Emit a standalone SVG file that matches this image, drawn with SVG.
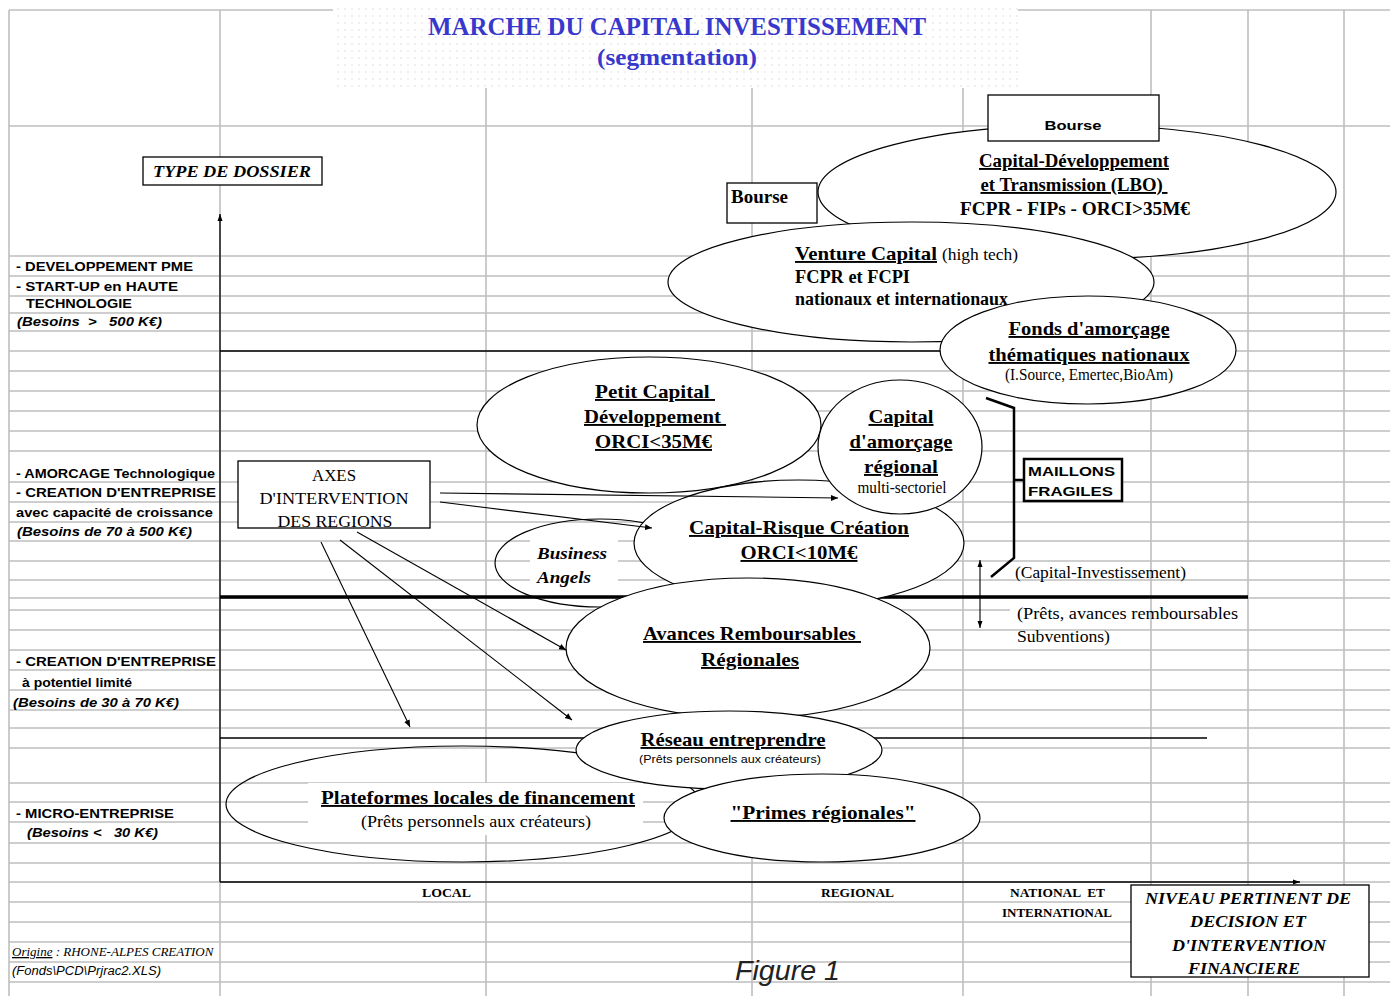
<svg xmlns="http://www.w3.org/2000/svg" width="1390" height="996" viewBox="0 0 1390 996">
<style>
.g{stroke:#bfbfbf;stroke-width:1.6;fill:none}
.ax{stroke:#000;stroke-width:1.3;fill:none}
.el{fill:#fff;stroke:#000;stroke-width:1.2}
.eo{fill:none;stroke:#000;stroke-width:1.2}
.bx{fill:#fff;stroke:#000;stroke-width:1.3}
.cn{stroke:#000;stroke-width:1.1;fill:none}
.lab{font-family:"Liberation Sans",Arial,sans-serif;font-weight:bold;font-size:13px;fill:#000}
.labi{font-family:"Liberation Sans",Arial,sans-serif;font-weight:bold;font-style:italic;font-size:13px;fill:#000}
.tb{font-family:"Liberation Serif","Times New Roman",serif;font-weight:bold;font-size:18px;fill:#000}
.tbu{font-family:"Liberation Serif","Times New Roman",serif;font-weight:bold;font-size:19px;fill:#000;text-decoration:underline}
.tn{font-family:"Liberation Serif","Times New Roman",serif;font-size:16px;fill:#000}
.tbi{font-family:"Liberation Serif","Times New Roman",serif;font-weight:bold;font-style:italic;font-size:17px;fill:#000}
.ts{font-family:"Liberation Serif","Times New Roman",serif;font-weight:bold;font-size:12px;fill:#000}
.ttl{font-family:"Liberation Serif","Times New Roman",serif;font-weight:bold;fill:#3838cc}
</style>
<defs>
<pattern id="dots" width="7" height="7" patternUnits="userSpaceOnUse">
<rect width="7" height="7" fill="#fff"/>
<circle cx="2" cy="2" r="0.8" fill="#dcdcdc"/>
</pattern>
<marker id="ah" markerWidth="8" markerHeight="8" refX="7" refY="4" orient="auto" markerUnits="userSpaceOnUse">
<path d="M0,1 L7,4 L0,7 Z" fill="#000"/>
</marker>
<marker id="ahs" markerWidth="8" markerHeight="8" refX="7" refY="4" orient="auto-start-reverse" markerUnits="userSpaceOnUse">
<path d="M0,1.5 L7,4 L0,6.5 Z" fill="#000"/>
</marker>
</defs>
<rect width="1390" height="996" fill="#fff"/>

<g id="grid">
<line class="g" x1="9" y1="10" x2="333" y2="10"/>
<line class="g" x1="1018" y1="10" x2="1390" y2="10"/>
<path class="g" d="M9,126H1390M9,256H1390M9,276H1390M9,296H1390M9,313H1390M9,331H1390M9,351H1390M9,371H1390M9,391H1390M9,411H1390M9,431H1390M9,451H1390M9,482H1390M9,502H1390M9,522H1390M9,541H1390M9,561H1390M9,580H1390M9,598H1390M9,610H1010M9,630H1390M9,650H1390M9,670H1390M9,690H1390M9,710H1390M9,728H1390M9,748H1390M9,783H1390M9,802H1390M9,822H1390M9,843H1390M9,863H1390M9,882H1390M9,902H1390M9,922H1390M9,942H1390M9,962H1390M9,982H1390"/>
<path class="g" d="M9,10V996M220,10V996M486,88V996M752,88V996M963,88V996M1151,10V996M1248,10V996M1344,10V996"/>
</g>

<g id="title">
<rect x="333" y="6" width="685" height="82" fill="url(#dots)"/>
<text class="ttl" x="677" y="35" font-size="25" text-anchor="middle" textLength="498" lengthAdjust="spacingAndGlyphs">MARCHE DU CAPITAL INVESTISSEMENT</text>
<text class="ttl" x="677" y="65" font-size="23" text-anchor="middle" textLength="160" lengthAdjust="spacingAndGlyphs">(segmentation)</text>
</g>

<g id="axes">
<line class="ax" x1="220" y1="882" x2="220" y2="214" marker-end="url(#ahs)"/>
<line class="ax" x1="220" y1="882" x2="1300" y2="882" marker-end="url(#ahs)"/>
<line class="ax" x1="220" y1="351" x2="945" y2="351"/>
<line class="ax" x1="220" y1="738" x2="1207" y2="738"/>
</g>

<g id="type-dossier">
<rect class="bx" x="143" y="157" width="179" height="28" stroke-width="1.6"/>
<text class="tbi" x="232" y="177" text-anchor="middle" font-size="18" textLength="158" lengthAdjust="spacingAndGlyphs">TYPE DE DOSSIER</text>
</g>

<g id="left-labels">
<text class="lab" x="16" y="271" textLength="177" lengthAdjust="spacingAndGlyphs">- DEVELOPPEMENT PME</text>
<text class="lab" x="16" y="291" textLength="162" lengthAdjust="spacingAndGlyphs">- START-UP en HAUTE</text>
<text class="lab" x="26" y="308" textLength="106" lengthAdjust="spacingAndGlyphs">TECHNOLOGIE</text>
<text class="labi" x="17" y="326" textLength="145" lengthAdjust="spacingAndGlyphs" xml:space="preserve">(Besoins  &gt;   500 K€)</text>
<text class="lab" x="16" y="478" textLength="199" lengthAdjust="spacingAndGlyphs">- AMORCAGE Technologique</text>
<text class="lab" x="16" y="497" textLength="200" lengthAdjust="spacingAndGlyphs">- CREATION D'ENTREPRISE</text>
<text class="lab" x="16" y="517" textLength="197" lengthAdjust="spacingAndGlyphs">avec capacité de croissance</text>
<text class="labi" x="17" y="536" textLength="175" lengthAdjust="spacingAndGlyphs">(Besoins de 70 à 500 K€)</text>
<text class="lab" x="16" y="666" textLength="200" lengthAdjust="spacingAndGlyphs">- CREATION D'ENTREPRISE</text>
<text class="lab" x="22" y="687" textLength="110" lengthAdjust="spacingAndGlyphs">à potentiel limité</text>
<text class="labi" x="13" y="707" textLength="166" lengthAdjust="spacingAndGlyphs">(Besoins de 30 à 70 K€)</text>
<text class="lab" x="16" y="818" textLength="158" lengthAdjust="spacingAndGlyphs">- MICRO-ENTREPRISE</text>
<text class="labi" x="27" y="837" textLength="131" lengthAdjust="spacingAndGlyphs" xml:space="preserve">(Besoins &lt;   30 K€)</text>
</g>

<g id="capital-developpement">
<ellipse class="el" cx="1077" cy="192" rx="259" ry="67"/>
<text class="tbu" x="1074" y="167" text-anchor="middle" font-size="18" textLength="190" lengthAdjust="spacingAndGlyphs">Capital-Développement</text>
<text class="tbu" x="1074" y="191" text-anchor="middle" font-size="18" textLength="187" lengthAdjust="spacingAndGlyphs" xml:space="preserve">et Transmission (LBO) </text>
<text class="tb" x="1075" y="215" text-anchor="middle" textLength="230" lengthAdjust="spacingAndGlyphs">FCPR - FIPs - ORCI&gt;35M€</text>
</g>

<g id="bourse-top">
<rect class="bx" x="988" y="95" width="171" height="46"/>
<text class="lab" x="1073" y="130" text-anchor="middle" font-size="14" textLength="57" lengthAdjust="spacingAndGlyphs">Bourse</text>
</g>

<g id="bourse-left">
<rect class="bx" x="727" y="183" width="90" height="40"/>
<text class="tb" x="731" y="203" font-size="17" textLength="57" lengthAdjust="spacingAndGlyphs">Bourse</text>
</g>

<g id="venture-capital">
<ellipse class="el" cx="911" cy="282" rx="243" ry="60"/>
<text class="tbu" x="795" y="260" font-size="18" textLength="142" lengthAdjust="spacingAndGlyphs">Venture Capital</text>
<text class="tn" x="942" y="260" font-size="15" textLength="76" lengthAdjust="spacingAndGlyphs">(high tech)</text>
<text class="tb" x="795" y="283" font-size="17" textLength="115" lengthAdjust="spacingAndGlyphs">FCPR et FCPI</text>
<text class="tb" x="795" y="305" font-size="15" textLength="213" lengthAdjust="spacingAndGlyphs">nationaux et internationaux</text>
</g>

<g id="fonds-amorcage">
<ellipse class="el" cx="1088" cy="350" rx="148" ry="54"/>
<text class="tbu" x="1089" y="335" text-anchor="middle" font-size="18" textLength="161" lengthAdjust="spacingAndGlyphs">Fonds d'amorçage</text>
<text class="tbu" x="1089" y="361" text-anchor="middle" font-size="18" textLength="201" lengthAdjust="spacingAndGlyphs">thématiques nationaux</text>
<text class="tn" x="1089" y="380" text-anchor="middle" font-size="12" textLength="168" lengthAdjust="spacingAndGlyphs">(I.Source, Emertec,BioAm)</text>
</g>

<g id="petit-capital">
<ellipse class="el" cx="649" cy="425" rx="172" ry="68"/>
<text class="tbu" x="595" y="398" textLength="120" lengthAdjust="spacingAndGlyphs" xml:space="preserve">Petit Capital </text>
<text class="tbu" x="584" y="423" textLength="142" lengthAdjust="spacingAndGlyphs" xml:space="preserve">Développement </text>
<text class="tbu" x="595" y="448" textLength="117" lengthAdjust="spacingAndGlyphs">ORCI&lt;35M€</text>
</g>

<g id="business-angels">
<ellipse class="eo" cx="600" cy="563" rx="105" ry="44"/>
<rect x="530" y="540" width="88" height="52" fill="#fff"/>
<text class="tbi" x="537" y="559" textLength="70" lengthAdjust="spacingAndGlyphs">Business</text>
<text class="tbi" x="537" y="583" textLength="54" lengthAdjust="spacingAndGlyphs">Angels</text>
</g>

<line id="thick-line" x1="220" y1="597" x2="1248" y2="597" stroke="#000" stroke-width="3.5"/>

<g id="capital-risque">
<ellipse class="el" cx="799" cy="543" rx="165" ry="63"/>
<text class="tbu" x="799" y="534" text-anchor="middle" textLength="220" lengthAdjust="spacingAndGlyphs">Capital-Risque Création</text>
<text class="tbu" x="799" y="559" text-anchor="middle" textLength="117" lengthAdjust="spacingAndGlyphs">ORCI&lt;10M€</text>
</g>

<g id="capital-amorcage-regional">
<ellipse class="el" cx="900" cy="447" rx="82" ry="67"/>
<text class="tbu" x="901" y="423" text-anchor="middle" textLength="65" lengthAdjust="spacingAndGlyphs">Capital</text>
<text class="tbu" x="901" y="448" text-anchor="middle" textLength="103" lengthAdjust="spacingAndGlyphs">d'amorçage</text>
<text class="tbu" x="901" y="473" text-anchor="middle" textLength="74" lengthAdjust="spacingAndGlyphs">régional</text>
<text class="tn" x="902" y="493" text-anchor="middle" font-size="13" textLength="89" lengthAdjust="spacingAndGlyphs">multi-sectoriel</text>
</g>

<g id="avances">
<ellipse class="el" cx="748" cy="648" rx="182" ry="70"/>
<text class="tbu" x="643" y="640" textLength="218" lengthAdjust="spacingAndGlyphs" xml:space="preserve">Avances Remboursables </text>
<text class="tbu" x="750" y="666" text-anchor="middle" textLength="98" lengthAdjust="spacingAndGlyphs">Régionales</text>
</g>

<g id="plateformes">
<ellipse class="eo" cx="463" cy="804" rx="237" ry="58"/>
<rect x="308" y="783" width="335" height="52" fill="#fff"/>
<text class="tbu" x="478" y="804" text-anchor="middle" textLength="314" lengthAdjust="spacingAndGlyphs">Plateformes locales de financement</text>
<text class="tn" x="476" y="827" text-anchor="middle" textLength="230" lengthAdjust="spacingAndGlyphs">(Prêts personnels aux créateurs)</text>
</g>

<g id="reseau">
<ellipse class="el" cx="729" cy="750" rx="153" ry="39"/>
<text class="tbu" x="733" y="746" text-anchor="middle" font-size="18" textLength="185" lengthAdjust="spacingAndGlyphs">Réseau entreprendre</text>
<text x="730" y="763" text-anchor="middle" font-family="Liberation Sans, Arial, sans-serif" font-size="11" textLength="182" lengthAdjust="spacingAndGlyphs">(Prêts personnels aux créateurs)</text>
</g>

<g id="primes">
<ellipse class="el" cx="822" cy="818" rx="158" ry="44"/>
<text class="tbu" x="823" y="819" text-anchor="middle" textLength="185" lengthAdjust="spacingAndGlyphs">"Primes régionales"</text>
</g>

<g id="axes-regions">
<rect class="bx" x="238" y="461" width="192" height="67"/>
<text class="tn" x="334" y="481" text-anchor="middle" font-size="17" textLength="44" lengthAdjust="spacingAndGlyphs">AXES</text>
<text class="tn" x="334" y="504" text-anchor="middle" font-size="17" textLength="149" lengthAdjust="spacingAndGlyphs">D'INTERVENTION</text>
<text class="tn" x="335" y="527" text-anchor="middle" font-size="17" textLength="115" lengthAdjust="spacingAndGlyphs">DES REGIONS</text>
</g>

<g id="connectors">
<line class="cn" x1="440" y1="493" x2="838" y2="498" marker-end="url(#ah)"/>
<line class="cn" x1="440" y1="502" x2="652" y2="528" marker-end="url(#ah)"/>
<line class="cn" x1="357" y1="532" x2="566" y2="650" marker-end="url(#ah)"/>
<line class="cn" x1="340" y1="540" x2="572" y2="720" marker-end="url(#ah)"/>
<line class="cn" x1="321" y1="542" x2="410" y2="727" marker-end="url(#ah)"/>
<line class="cn" x1="980" y1="594" x2="980" y2="560" marker-end="url(#ahs)"/>
<line class="cn" x1="980" y1="594" x2="980" y2="628" marker-end="url(#ahs)"/>
</g>

<g id="maillons">
<path d="M986,398 L1014,408 L1014,558 L991,577" fill="none" stroke="#000" stroke-width="2.5"/>
<line x1="1014" y1="480" x2="1024" y2="480" stroke="#000" stroke-width="2.5"/>
<rect x="1024" y="459" width="98" height="42" fill="#fff" stroke="#000" stroke-width="2.5"/>
<text class="lab" x="1028" y="476" font-size="14" textLength="87" lengthAdjust="spacingAndGlyphs">MAILLONS</text>
<text class="lab" x="1028" y="496" font-size="14" textLength="85" lengthAdjust="spacingAndGlyphs">FRAGILES</text>
</g>

<g id="right-notes">
<text class="tn" x="1015" y="578" textLength="171" lengthAdjust="spacingAndGlyphs">(Capital-Investissement)</text>
<text class="tn" x="1017" y="619" textLength="221" lengthAdjust="spacingAndGlyphs">(Prêts, avances remboursables</text>
<text class="tn" x="1017" y="642" textLength="93" lengthAdjust="spacingAndGlyphs">Subventions)</text>
</g>

<g id="x-labels">
<text class="ts" x="422" y="897" textLength="49" lengthAdjust="spacingAndGlyphs">LOCAL</text>
<text class="ts" x="821" y="897" textLength="73" lengthAdjust="spacingAndGlyphs">REGIONAL</text>
<text class="ts" x="1010" y="897" textLength="95" lengthAdjust="spacingAndGlyphs" xml:space="preserve">NATIONAL  ET</text>
<text class="ts" x="1002" y="917" textLength="110" lengthAdjust="spacingAndGlyphs">INTERNATIONAL</text>
</g>

<g id="niveau">
<rect class="bx" x="1131" y="885" width="238" height="92"/>
<text class="tbi" x="1248" y="904" text-anchor="middle" textLength="206" lengthAdjust="spacingAndGlyphs">NIVEAU PERTINENT DE</text>
<text class="tbi" x="1248" y="927" text-anchor="middle" textLength="116" lengthAdjust="spacingAndGlyphs">DECISION ET</text>
<text class="tbi" x="1249" y="951" text-anchor="middle" textLength="154" lengthAdjust="spacingAndGlyphs">D'INTERVENTION</text>
<text class="tbi" x="1244" y="974" text-anchor="middle" textLength="112" lengthAdjust="spacingAndGlyphs">FINANCIERE</text>
</g>

<g id="footer">
<text x="12" y="956" font-family="Liberation Serif, Times New Roman, serif" font-style="italic" font-size="13"><tspan text-decoration="underline">Origine</tspan> : RHONE-ALPES CREATION</text>
<text x="12" y="975" font-family="Liberation Sans, Arial, sans-serif" font-style="italic" font-size="12" textLength="149" lengthAdjust="spacingAndGlyphs">(Fonds\PCD\Prjrac2.XLS)</text>
<text x="735" y="980" font-family="Liberation Sans, Arial, sans-serif" font-style="italic" font-size="27" fill="#222" textLength="105" lengthAdjust="spacingAndGlyphs">Figure 1</text>
</g>
</svg>
